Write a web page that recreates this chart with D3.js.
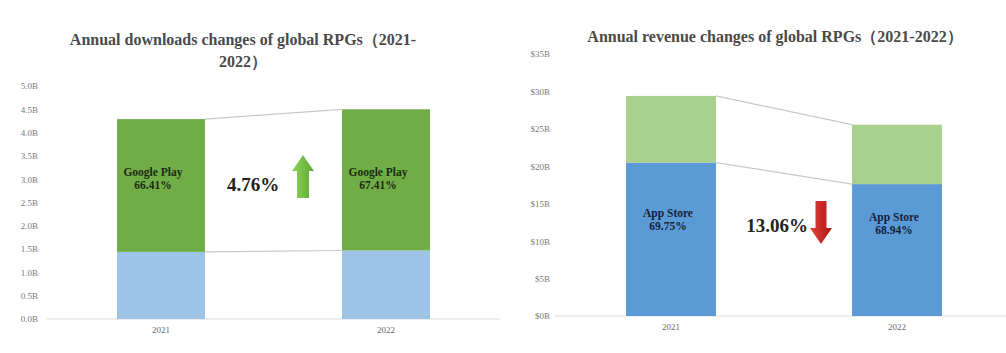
<!DOCTYPE html>
<html>
<head>
<meta charset="utf-8">
<script src="https://cdn.jsdelivr.net/npm/d3@7"></script>
<style>
  body { margin: 0; background: #fff; }
  text { font-family: "Liberation Serif", "DejaVu Serif", serif; }
</style>
</head>
<body>
<svg id="chart" width="1006" height="353"></svg>
<script>
// data
const years = ["2021", "2022"];

// downloads, billions
const dlOther = [1.44, 1.47];
const dlGooglePlay = [2.85, 3.03];
const dlShareLabels = ["66.41%", "67.41%"];
const dlTicks = [0, 0.5, 1, 1.5, 2, 2.5, 3, 3.5, 4, 4.5, 5];
const dlChange = "4.76%";

// revenue, $ billions
const revAppStore = [20.5, 17.62];
const revGooglePlay = [8.9, 7.94];
const revShareLabels = ["69.75%", "68.94%"];
const revTicks = [0, 5, 10, 15, 20, 25, 30, 35];
const revChange = "13.06%";

const svg = d3.select("#chart");
const defs = svg.append("defs");

let g1 = defs.append("linearGradient").attr("id", "gUp").attr("x1", 0).attr("x2", 1);
g1.append("stop").attr("offset", "0%").attr("stop-color", "#8fd35a");
g1.append("stop").attr("offset", "100%").attr("stop-color", "#5ea832");
let g2 = defs.append("linearGradient").attr("id", "gDown").attr("x1", 0).attr("x2", 1);
g2.append("stop").attr("offset", "0%").attr("stop-color", "#e0403a");
g2.append("stop").attr("offset", "100%").attr("stop-color", "#b01818");

function drawPanel(opt) {
  const g = svg.append("g");
  const x = d3.scaleBand().domain(years).range(opt.xRange)
    .paddingInner(opt.pi).paddingOuter(opt.po);
  const y = d3.scaleLinear().domain([0, opt.max]).range(opt.yRange);

  // title
  const t = g.append("text")
    .attr("x", opt.titleX).attr("y", opt.titleY)
    .attr("text-anchor", "middle")
    .attr("font-size", 16).attr("font-weight", "bold").attr("fill", "#4a4a4a");
  opt.title.forEach((line, i) => {
    t.append("tspan").attr("x", opt.titleX).attr("dy", i ? 22 : 0).text(line);
  });

  // y axis
  const ax = g.append("g")
    .attr("transform", `translate(${opt.axisX},0)`)
    .call(d3.axisLeft(y).tickValues(opt.ticks).tickSize(0).tickPadding(0).tickFormat(opt.fmt));
  ax.select(".domain").remove();
  ax.selectAll("text")
    .attr("font-family", "Liberation Serif").attr("font-size", 9).attr("fill", "#777");

  // baseline
  g.append("line")
    .attr("x1", opt.baseX[0]).attr("x2", opt.baseX[1])
    .attr("y1", y(0)).attr("y2", y(0))
    .attr("stroke", "#d9d9d9").attr("stroke-width", 1.2);

  // bars
  years.forEach((yr, i) => {
    const b = opt.bottom[i], tp = opt.top[i];
    g.append("rect")
      .attr("x", x(yr)).attr("width", x.bandwidth())
      .attr("y", y(b)).attr("height", y(0) - y(b))
      .attr("fill", opt.bottomColor);
    g.append("rect")
      .attr("x", x(yr)).attr("width", x.bandwidth())
      .attr("y", y(b + tp)).attr("height", y(b) - y(b + tp))
      .attr("fill", opt.topColor);

    g.append("text")
      .attr("x", x(yr) + x.bandwidth() / 2).attr("y", y(0) + 14)
      .attr("text-anchor", "middle").attr("font-size", 9).attr("fill", "#666")
      .text(yr);
  });

  // connector lines
  const a = years[0], c = years[1];
  [[opt.bottom[0] + opt.top[0], opt.bottom[1] + opt.top[1]], [opt.bottom[0], opt.bottom[1]]].forEach(v => {
    g.append("line")
      .attr("x1", x(a) + x.bandwidth()).attr("y1", y(v[0]))
      .attr("x2", x(c)).attr("y2", y(v[1]))
      .attr("stroke", "#c8c8c8").attr("stroke-width", 1.2);
  });

  // share labels
  years.forEach((yr, i) => {
    const cx = x(yr) + x.bandwidth() / 2 + opt.labelDx;
    const lt = g.append("text")
      .attr("text-anchor", "middle").attr("font-size", 11.5).attr("font-weight", "bold")
      .attr("fill", opt.labelColor);
    const ly = opt.labelY[i];
    lt.append("tspan").attr("x", cx).attr("y", ly).text(opt.labelName);
    lt.append("tspan").attr("x", cx).attr("y", ly + 13).text(opt.shares[i]);
  });

  // change annotation
  g.append("text")
    .attr("x", opt.changeX).attr("y", opt.changeY)
    .attr("text-anchor", "middle").attr("font-size", 19).attr("font-weight", "bold")
    .attr("fill", "#222").text(opt.change);

  // arrow
  const ar = opt.arrow;
  const hw = ar.w / 2, sw = ar.shaft / 2, hh = ar.head;
  let pts;
  if (ar.up) {
    pts = [[ar.cx, ar.y0], [ar.cx + hw, ar.y0 + hh], [ar.cx + sw, ar.y0 + hh], [ar.cx + sw, ar.y1],
           [ar.cx - sw, ar.y1], [ar.cx - sw, ar.y0 + hh], [ar.cx - hw, ar.y0 + hh]];
  } else {
    pts = [[ar.cx, ar.y1], [ar.cx + hw, ar.y1 - hh], [ar.cx + sw, ar.y1 - hh], [ar.cx + sw, ar.y0],
           [ar.cx - sw, ar.y0], [ar.cx - sw, ar.y1 - hh], [ar.cx - hw, ar.y1 - hh]];
  }
  g.append("path").attr("d", d3.line()(pts) + "Z").attr("fill", ar.fill);
}

drawPanel({
  title: ["Annual downloads changes of global RPGs（2021-", "2022）"],
  titleX: 243, titleY: 45,
  xRange: [47, 500], pi: 0.609, po: 0.311,
  yRange: [319, 86], max: 5,
  ticks: dlTicks, fmt: d => d.toFixed(1) + "B",
  axisX: 38, baseX: [47, 500],
  bottom: dlOther, top: dlGooglePlay,
  bottomColor: "#9dc3e6", topColor: "#70ad47",
  labelName: "Google Play", shares: dlShareLabels, labelColor: "#1c2a14",
  labelY: [176, 176], labelDx: -8,
  change: dlChange, changeX: 253, changeY: 191,
  arrow: { up: true, cx: 303, y0: 155, y1: 198, w: 22, shaft: 12, head: 16, fill: "url(#gUp)" }
});

drawPanel({
  title: ["Annual revenue changes of global RPGs（2021-2022）"],
  titleX: 775, titleY: 42,
  xRange: [558, 1010], pi: 0.602, po: 0.301,
  yRange: [316, 54], max: 35,
  ticks: revTicks, fmt: d => "$" + d + "B",
  axisX: 550, baseX: [555, 1006],
  bottom: revAppStore, top: revGooglePlay,
  bottomColor: "#5b9bd5", topColor: "#a9d18e",
  labelName: "App Store", shares: revShareLabels, labelColor: "#14213a",
  labelY: [217, 221], labelDx: -3,
  change: revChange, changeX: 777, changeY: 232,
  arrow: { up: false, cx: 821, y0: 201, y1: 244, w: 22, shaft: 11, head: 16, fill: "url(#gDown)" }
});
</script>
</body>
</html>
